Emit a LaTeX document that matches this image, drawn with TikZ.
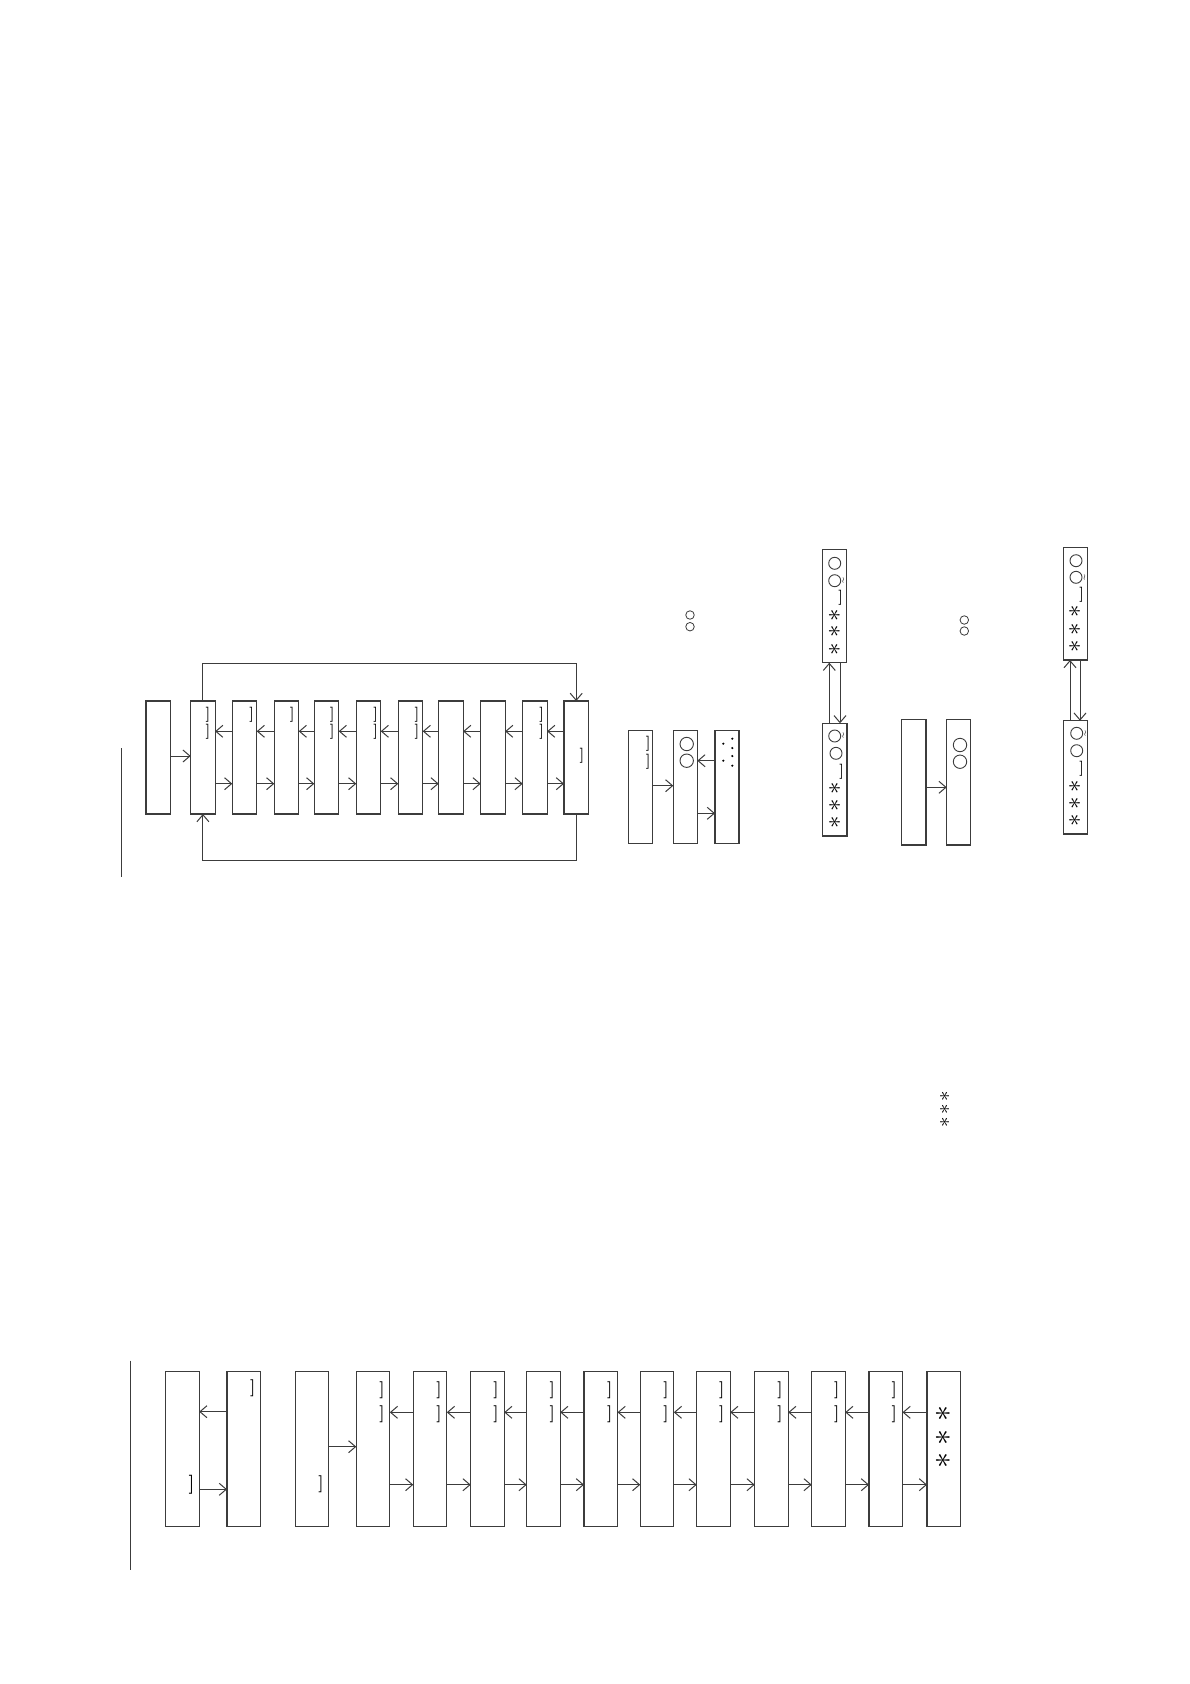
\documentclass[tikz,border=0pt]{standalone}
\usetikzlibrary{arrows.meta}
\definecolor{ln}{RGB}{60,60,60}
\begin{document}
\begin{tikzpicture}[x=1pt,y=-1pt,
  box/.style={draw=ln, line width=1.1pt, fill=white, inner sep=0pt, outer sep=0pt, anchor=north west},
  arr/.style={draw=ln, line width=1pt, -{Straight Barb[length=7pt,width=12pt]}},
  ln/.style={draw=ln, line width=1pt},
  brk/.style={inner sep=0pt, font=\fontsize{15}{15}\selectfont\bfseries},
  brkb/.style={inner sep=0pt, font=\fontsize{17}{17}\selectfont\bfseries},
  ring/.style={circle, draw=ln, line width=0.9pt, inner sep=0pt, minimum size=12pt},
  sring/.style={circle, draw=ln, line width=0.8pt, inner sep=0pt, minimum size=8.5pt},
  star/.style={inner sep=0pt, rotate=90},
  wav/.style={inner sep=0pt, font=\fontsize{8}{8}\selectfont},
  dot/.style={circle, fill=black, inner sep=0pt, minimum size=2.4pt}]
\newcommand{\myast}[1]{\scalebox{#1}{$\ast$}}
\fill[white] (0,0) rectangle (1190,1684);
\useasboundingbox (0,0) rectangle (1190,1684);

% ---------------- top row ----------------
\draw[ln] (121.7,748) -- (121.7,877);
\foreach \i/\x in {1/146,2/190.7,3/232.3,4/274.3,5/314.3,6/356.3,7/398.3,8/438.7,9/480.7,10/522.7,11/564}
  \node[box, minimum width=24.4pt, minimum height=113pt] (t\i) at (\x,701) {};
\draw[arr] (t1.east |- 0,756) -- (t2.west |- 0,756);
\foreach \i [evaluate=\i as \j using int(\i+1)] in {2,...,10}{
  \draw[arr] (t\j.west |- 0,731.3) -- (t\i.east |- 0,731.3);
  \draw[arr] (t\i.east |- 0,783.7) -- (t\j.west |- 0,783.7);
}
\coordinate (lt1) at (t2.north |- 0,663.3);
\coordinate (lt2) at (t11.north |- 0,663.3);
\draw[arr] (t2.north) -- (lt1) -- (lt2) -- (t11.north);
\coordinate (lb1) at (t11.south |- 0,860);
\coordinate (lb2) at (t2.south |- 0,860);
\draw[arr] (t11.south) -- (lb1) -- (lb2) -- (t2.south);
% brackets
\foreach \n/\x in {2/208,5/332.3,6/375.7,7/417,10/541.7}{
  \node[brk] (ta\n) at (\x,714.5) {]};
  \node[brk] (tb\n) at (\x,731.5) {]};
}
\node[brk] (ta3) at (251.7,715) {]};
\node[brk] (ta4) at (292.3,715) {]};
\node[brk] (ta11) at (582,755.7) {]};

% ---------------- middle group A B C ----------------
\node[sring] (s1) at (690,615) {};
\node[sring] (s2) at (690,626.7) {};
\node[box, minimum width=24pt, minimum height=112.6pt] (A) at (628.7,730.7) {};
\node[box, minimum width=24pt, minimum height=112.6pt] (B) at (673.3,730.7) {};
\node[box, minimum width=24pt, minimum height=112.6pt] (C) at (715,730.7) {};
\node[brk] (Aa) at (648.3,744) {]};
\node[brk] (Ab) at (648.3,761.7) {]};
\node[ring, minimum size=13.4pt] (Bc1) at (686.7,744) {};
\node[ring, minimum size=13.4pt] (Bc2) at (686.7,760.7) {};
\draw[arr] (A.east |- 0,785.7) -- (B.west |- 0,785.7);
\draw[arr] (C.west |- 0,760.7) -- (B.east |- 0,760.7);
\draw[arr] (B.east |- 0,813.3) -- (C.west |- 0,813.3);
\foreach \k/\x/\y in {1/732.3/738.7,2/723.3/743.7,3/732.3/748,4/732.3/756,5/723.3/760.7,6/732.3/765.7}
  \node[dot] (Cd\k) at (\x,\y) {};

% ---------------- D / E ----------------
\node[box, minimum width=24pt, minimum height=113.4pt] (D) at (822.3,549.3) {};
\node[box, minimum width=24.7pt, minimum height=112.7pt] (E) at (822.3,723.3) {};
\draw[arr] (E.north -| 829.3,0) -- (D.south -| 829.3,0);
\draw[arr] (D.south -| 840,0) -- (E.north -| 840,0);
\node[ring] (Dc1) at (834.7,563.3) {};
\node[ring] (Dc2) at (834.7,580.7) {};
\node[wav] (Dw) at (843.3,580.3) {$\wr$};
\node[brk] (Db) at (840.7,597.3) {]};
\node[star] (Ds1) at (834.7,615) {\myast{2.5}};
\node[star] (Ds2) at (834.7,631.7) {\myast{2.5}};
\node[star] (Ds3) at (834.7,649) {\myast{2.5}};
\node[ring] (Ec1) at (834.7,736) {};
\node[wav] (Ew) at (843.3,735.6) {$\wr$};
\node[ring] (Ec2) at (836,753.3) {};
\node[brk] (Eb) at (841.7,771.7) {]};
\node[star] (Es1) at (835,788.3) {\myast{2.5}};
\node[star] (Es2) at (835,805.7) {\myast{2.5}};
\node[star] (Es3) at (835,822.7) {\myast{2.5}};

% ---------------- F / G ----------------
\node[sring] (s3) at (964.3,620) {};
\node[sring] (s4) at (964.3,631) {};
\node[box, minimum width=24.3pt, minimum height=125.7pt] (F) at (901.7,719.3) {};
\node[box, minimum width=24pt, minimum height=125.7pt] (G) at (946.7,719.3) {};
\draw[arr] (F.east |- 0,787.3) -- (G.west |- 0,787.3);
\node[ring, minimum size=13.4pt] (Gc1) at (960,745) {};
\node[ring, minimum size=13.4pt] (Gc2) at (960,761.7) {};

% ---------------- H / I ----------------
\node[box, minimum width=24pt, minimum height=112.7pt] (H) at (1063.3,547.3) {};
\node[box, minimum width=24pt, minimum height=113.3pt] (I) at (1063.3,720.7) {};
\draw[arr] (I.north -| 1070,0) -- (H.south -| 1070,0);
\draw[arr] (H.south -| 1080,0) -- (I.north -| 1080,0);
\node[ring] (Hc1) at (1076,560.7) {};
\node[ring] (Hc2) at (1076,577.3) {};
\node[wav] (Hw) at (1084.5,577) {$\wr$};
\node[brk] (Hb) at (1081.7,595) {]};
\node[star] (Hs1) at (1075,611.7) {\myast{2.5}};
\node[star] (Hs2) at (1075,629.3) {\myast{2.5}};
\node[star] (Hs3) at (1075,646.7) {\myast{2.5}};
\node[ring] (Ic1) at (1076.7,733.3) {};
\node[wav] (Iw) at (1085.2,733) {$\wr$};
\node[ring] (Ic2) at (1076.7,750.7) {};
\node[brk] (Ib) at (1081.7,768.3) {]};
\node[star] (Is1) at (1075,786) {\myast{2.5}};
\node[star] (Is2) at (1075,803.3) {\myast{2.5}};
\node[star] (Is3) at (1075,820) {\myast{2.5}};

% ---------------- lone asterisks ----------------
\node[star] (q1) at (945,1096) {\myast{2.1}};
\node[star] (q2) at (945,1109.3) {\myast{2.1}};
\node[star] (q3) at (945,1122.7) {\myast{2.1}};

% ---------------- bottom row ----------------
\draw[ln] (130,1360.7) -- (130,1570);
\foreach \n/\x in {J/165.7,K/227,L/295.3,M/356.3,N/413.3,O/470.7,P/526.7,Q/584,R/640.3,S/696.7,T/754.7,U/811.7,V/869,W/927}
  \node[box, minimum width=33.5pt, minimum height=155pt] (\n) at (\x,1371.5) {};
\draw[arr] (K.west |- 0,1411.7) -- (J.east |- 0,1411.7);
\draw[arr] (J.east |- 0,1489.3) -- (K.west |- 0,1489.3);
\draw[arr] (L.east |- 0,1446.7) -- (M.west |- 0,1446.7);
\foreach \a/\b in {M/N,N/O,O/P,P/Q,Q/R,R/S,S/T,T/U,U/V,V/W}{
  \draw[arr] (\b.west |- 0,1412.3) -- (\a.east |- 0,1412.3);
  \draw[arr] (\a.east |- 0,1484.7) -- (\b.west |- 0,1484.7);
}
\node[brkb, font=\fontsize{19}{19}\selectfont\bfseries] (Jb) at (191.7,1484.3) {]};
\node[brkb] (Kb) at (252.7,1388.3) {]};
\node[brkb] (Lb) at (321,1484.3) {]};
\foreach \n/\x in {M/382,N/439,O/496,P/552.3,Q/609.7,R/666,S/721.7,T/780,U/836.7,V/894.3}{
  \node[brkb] (\n ba) at (\x,1390) {]};
  \node[brkb] (\n bb) at (\x,1414) {]};
}
\node[star] (Ws1) at (943.3,1413.3) {\myast{3.2}};
\node[star] (Ws2) at (943.3,1437.3) {\myast{3.2}};
\node[star] (Ws3) at (943.3,1460.7) {\myast{3.2}};
\end{tikzpicture}
\end{document}
